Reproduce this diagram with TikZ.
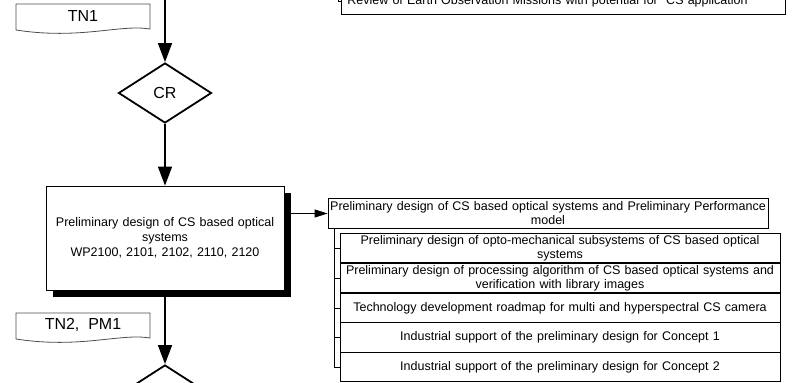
\documentclass[tikz,border=0pt]{standalone}
\usepackage{fontspec}
\setmainfont{Liberation Sans}
\usetikzlibrary{arrows.meta,shapes.geometric,shadows}

\tikzset{
  flow/.style={line width=1.5pt, -{Triangle[length=19pt,width=14pt]}},
  thinflow/.style={line width=0.8pt, -{Triangle[length=13pt,width=8pt]}},
  gate/.style={draw, diamond, line width=1.8pt, minimum width=93pt, minimum height=60pt,
    inner sep=0pt, font=\fontsize{16}{18}\selectfont},
  wpbox/.style={draw, line width=0.8pt, fill=white, minimum width=238pt, minimum height=104pt,
    text width=230pt, align=center, font=\fontsize{12.5}{15}\selectfont,
    drop shadow={shadow xshift=6.5pt, shadow yshift=-6.5pt, opacity=1, fill=black}},
  taskbox/.style={draw, line width=0.8pt, minimum width=440pt, minimum height=29.5pt,
    text width=440pt, inner xsep=0pt, inner ysep=0pt, align=center,
    font=\fontsize{12.5}{14}\selectfont},
  docshape/.style={draw=black!70, line width=0.8pt},
  bus/.style={line width=0.8pt}
}

\begin{document}
\begin{tikzpicture}[x=1pt, y=-1pt]
    \useasboundingbox (0,0) rectangle (796,383);

    % deliverables
    \draw[docshape] (16,30) -- (16,4) -- (150,4) -- (150,29)
      .. controls (120,24) and (80,40) .. (16,30);
    \node[font=\fontsize{16}{18}\selectfont] (tn1) at (83,16) {TN1};
    \draw[docshape] (16,339) -- (16,313) -- (150,313) -- (150,338)
      .. controls (120,333) and (80,349) .. (16,339);
    \node[font=\fontsize{16}{18}\selectfont] (tn2) at (83,325) {TN2,\ \ PM1};

    % main flow
    \coordinate (top) at (165,-5);
    \node[gate] (cr1) at (165,93) {CR};
    \node[wpbox] (wp) at (165,238) {Preliminary design of CS based optical\\ systems\\
      WP2100, 2101, 2102, 2110, 2120};
    \node[gate] (cr2) at (165,395) {};

    \draw[flow] (top) -- (cr1.north);
    \draw[flow] (cr1.south) -- (wp.north);
    \draw[flow] (wp.south) -- (cr2.north);

    % review box at top
    \node[taskbox, minimum width=444pt, text width=432pt, inner xsep=6pt, align=left,
      anchor=south west, minimum height=27pt] (eo) at (341,15)
      {Review of Earth Observation Missions with potential for\ \ CS application};
    \draw[bus] (338,-20) |- (eo.west);

    % tasks
    \node[taskbox] (perf) at (548,213.5) {Preliminary design of CS based optical systems and Preliminary Performance\\ model};
    \node[taskbox] (sub1) at (560,248) {Preliminary design of opto-mechanical subsystems of CS based optical\\ systems};
    \node[taskbox] (sub2) at (560,278) {Preliminary design of processing algorithm of CS based optical systems and\\ verification with library images};
    \node[taskbox] (sub3) at (560,308) {Technology development roadmap for multi and hyperspectral CS camera};
    \node[taskbox] (sub4) at (560,337.5) {Industrial support of the preliminary design for Concept 1};
    \node[taskbox] (sub5) at (560,367) {Industrial support of the preliminary design for Concept 2};

    \draw[thinflow] (wp.east |- perf.west) -- (perf.west);

    \coordinate (busTop) at ([xshift=7pt]perf.south west);
    \foreach \s in {sub1,sub2,sub3,sub4,sub5}
      \draw[bus] (busTop) |- (\s.west);

\end{tikzpicture}
\end{document}
